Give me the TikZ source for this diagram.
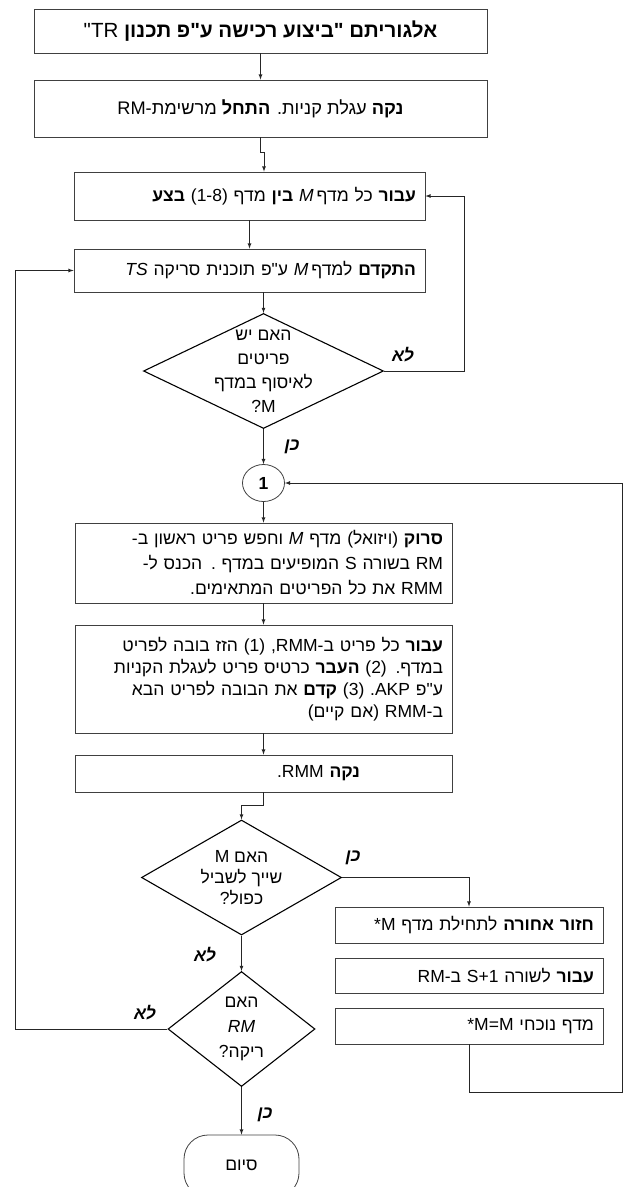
\documentclass[tikz,border=0pt]{standalone}
\usepackage{fontspec}
\setmainfont[Script=Hebrew,Ligatures=TeXOff]{Liberation Sans}
\newfontfamily\latinfont[Ligatures=TeXOff]{Liberation Sans}
\usetikzlibrary{arrows,shapes.geometric}
\TeXXeTstate=1
\newcommand{\heb}[1]{\beginR #1\endR}
\newcommand{\lat}[1]{\beginL{\latinfont #1}\endL}

\begin{document}
\begin{tikzpicture}[x=1pt,y=-1pt]

	\tikzstyle flow box=[draw=black!75,line width=0.8pt,inner xsep=9pt,inner ysep=0pt,font=\fontsize{17.5}{22}\selectfont];
	\tikzstyle decision=[diamond,draw=black,line width=1.1pt,inner sep=0pt];
	\tikzstyle decision text=[align=center,font=\fontsize{17.5}{24}\selectfont];
	\tikzstyle flow line=[draw=black!85,line width=0.8pt,-latex];
	\tikzstyle answer=[font=\fontsize{17.5}{20}\selectfont\bfseries\itshape];

	\useasboundingbox (0,0) rectangle (629,1187);

	% main column
	\node[flow box,minimum width=453pt,minimum height=44pt] (title) at (260.5,31)
		{\fontsize{20.5}{22}\selectfont\heb{\textbf{אלגוריתם "ביצוע רכישה ע"פ תכנון} \lat{"TR}}};
	\node[flow box,minimum width=453pt,minimum height=57pt] (clean) at (260.5,108.5)
		{\fontsize{18.2}{22}\selectfont\heb{\textbf{נקה} עגלת קניות. \textbf{התחל} מרשימת-\lat{RM}}};
	\node[flow box,text width=333pt,align=right,minimum height=48pt] (shelves) at (249.5,196)
		{\heb{\textbf{עבור} כל מדף\,\textit{M} \textbf{בין} מדף (1-8) \textbf{בצע}}};
	\node[flow box,text width=333pt,align=right,minimum height=43pt] (advance) at (249.5,270.5)
		{\heb{\textbf{התקדם} למדף\,\textit{M} ע"פ תוכנית סריקה \textit{TS}}};

	\node[decision,minimum width=240pt,minimum height=115pt] (items) at (263.5,371) {};
	\node[decision text] (items text) at (items)
		{\heb{האם יש}\\\heb{פריטים}\\\heb{לאיסוף במדף}\\\lat{?M}};

	\node[draw=black!75,line width=0.8pt,ellipse,minimum width=42pt,minimum height=37pt,inner sep=0pt,font=\fontsize{17.5}{20}\selectfont\bfseries] (one) at (263.5,483) {1};

	\node[flow box,text width=359pt,align=right,minimum height=80pt,font=\fontsize{17.5}{25}\selectfont] (scan) at (263.5,563)
		{\heb{\textbf{סרוק} (ויזואל) מדף \textit{M} וחפש פריט ראשון ב-}\\
		 \heb{\lat{RM} בשורה \lat{S} המופיעים במדף . הכנס ל-}\\
		 \heb{\lat{RMM} את כל הפריטים המתאימים.}};
	\node[flow box,text width=359pt,align=right,minimum height=108pt] (collect) at (263.5,679)
		{\heb{\textbf{עבור} כל פריט ב-\lat{,RMM} (1) הזז בובה לפריט}\\
		 \heb{במדף. (2) \textbf{העבר} כרטיס פריט לעגלת הקניות}\\
		 \heb{ע"פ \lat{.AKP} (3) \textbf{קדם} את הבובה לפריט הבא}\\
		 \heb{ב-\lat{RMM} (אם קיים)}};
	\node[flow box,text width=359pt,align=right,minimum height=37pt] (clear) at (263.5,773.5)
		{\heb{\textbf{נקה} \lat{.RMM}}\kern83pt};

	\node[decision,minimum width=200pt,minimum height=115pt] (double) at (241.5,877.5) {};
	\node[decision text,font=\fontsize{17.5}{21}\selectfont] (double text) at (double)
		{\heb{האם \lat{M}}\\\heb{שייך לשביל}\\\heb{כפול?}};

	\node[decision,minimum width=147pt,minimum height=115pt] (empty) at (241.5,1029) {};
	\node[decision text,font=\fontsize{17.5}{25}\selectfont] (empty text) at (empty)
		{\heb{האם}\\\textit{RM}\\\heb{ריקה?}};

	\node[draw=black!75,line width=0.8pt,rounded corners=24pt,minimum width=115pt,minimum height=62pt] (finish) at (241.5,1166) {};
	\node[font=\fontsize{17.5}{20}\selectfont] (finish text) at (241.5,1165) {\heb{סיום}};

	% side column
	\node[flow box,text width=250pt,align=right,minimum height=36pt] (back) at (469,925)
		{\heb{\textbf{חזור אחורה} לתחילת מדף \lat{*M}}};
	\node[flow box,text width=250pt,align=right,minimum height=35pt] (next row) at (469,975.5)
		{\heb{\textbf{עבור} לשורה \lat{S+1} ב-\lat{RM}}};
	\node[flow box,text width=250pt,align=right,minimum height=36pt] (current) at (469,1026)
		{\heb{מדף נוכחי \lat{*M=M}}};

	\coordinate (left edge) at (15,0);
	\coordinate (right edge) at (622,0);

	% connectors
	\draw[flow line] (title) -- (clean);
	\draw[flow line] (clean.south) -- ++(0,15) -| ([xshift=14.5pt]shelves.north);
	\draw[flow line] (shelves) -- (advance);
	\draw[flow line] (advance.south -| items.north) -- (items.north);
	\draw[flow line] (items.east) -- ++(80,0) |- (shelves.east);
	\draw[flow line] (items) -- (one);
	\draw[flow line] (one) -- (scan);
	\draw[flow line] (scan) -- (collect);
	\draw[flow line] (collect) -- (clear);
	\draw[flow line] (clear.south) -- ++(0,13) -| (double.north);
	\draw[flow line] (double.east) -| (back.north);
	\draw[flow line] (double) -- (empty);
	\draw[flow line] (empty.west) -- (empty.west -| left edge) |- (advance.west);
	\draw[flow line] (empty) -- (finish);
	\draw[flow line] (current.south) -- ++(0,48) -| (one.east -| right edge) -- (one.east);

	% answers
	\node[answer] (no items) at (403,355) {\heb{לא}};
	\node[answer] (yes items) at (292,447) {\heb{כן}};
	\node[answer] (yes double) at (353,858) {\heb{כן}};
	\node[answer] (no double) at (205,955) {\heb{לא}};
	\node[answer] (no empty) at (145,1013) {\heb{לא}};
	\node[answer] (yes empty) at (265,1115) {\heb{כן}};

\end{tikzpicture}
\end{document}
